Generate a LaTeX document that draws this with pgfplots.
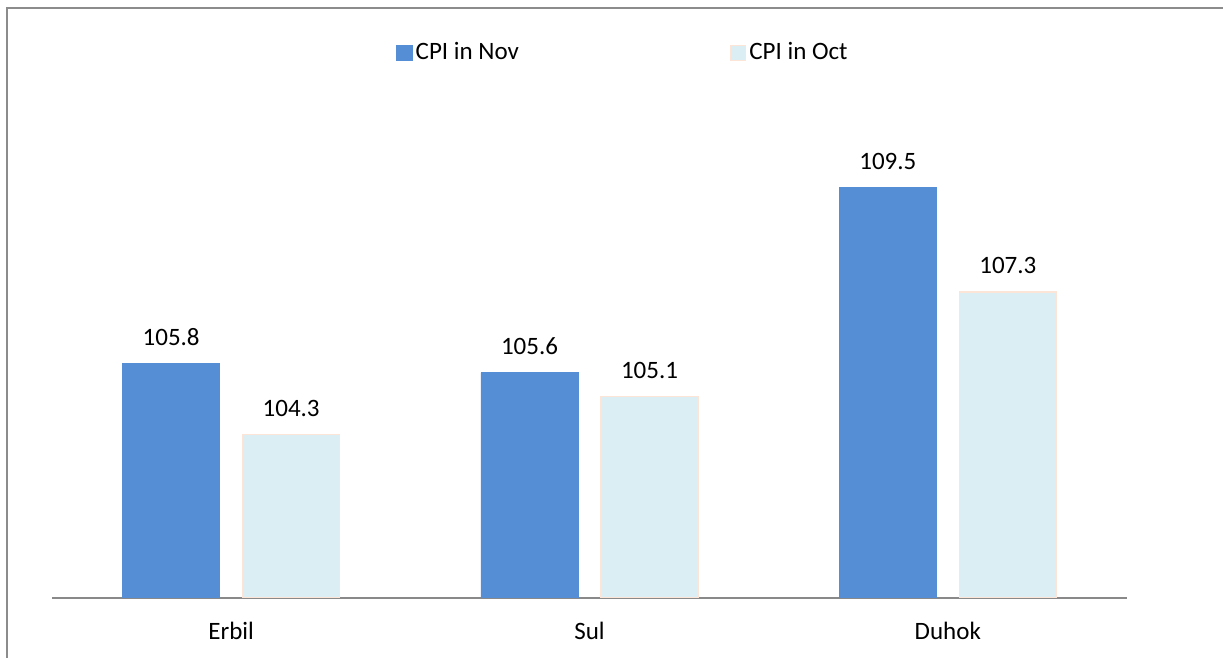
\documentclass[border=0pt]{standalone}
\usepackage{pgfplots}
\pgfplotsset{compat=1.18}
\usepackage{fontspec}
\setmainfont{Carlito}
\definecolor{novblue}{HTML}{558ED5}
\definecolor{octfill}{HTML}{DBEEF4}
\definecolor{octedge}{HTML}{FCE4D6}
\definecolor{framegray}{HTML}{8C8C8C}
\definecolor{axisgray}{HTML}{898989}
\begin{document}
\fontsize{12.5}{14.5}\selectfont
\begin{tikzpicture}
\useasboundingbox (0,0) rectangle (611.5pt,329pt);
\draw[framegray, line width=1.2pt] (3.5pt,-2pt) -- (3.5pt,325pt) -- (614pt,325pt);
\begin{axis}[
  at={(26pt,30pt)}, anchor=south west,
  scale only axis,
  width=537.5pt, height=249pt,
  xmin=-0.5, xmax=2.5,
  ymin=100.87, ymax=111.33,
  ybar, bar width=48.5pt,
  axis x line=bottom, axis y line=none,
  axis line style={draw=axisgray, line width=1pt, -},
  xtick={0,1,2}, xticklabels={Erbil,Sul,Duhok},
  major tick length=0pt,
  xticklabel style={font=\fontsize{12.5}{14.5}\selectfont, yshift=-7.7pt},
  nodes near coords,
  every node near coord/.append style={font=\fontsize{12.5}{14.5}\selectfont, black, yshift=4.5pt},
  /pgf/number format/.cd, fixed, precision=1, fixed zerofill, assume math mode=true,
  /pgfplots/.cd,
  legend columns=2,
  legend style={draw=none, fill=none, at={(0.5316,1.0944)}, anchor=center,
    font=\fontsize{12.5}{14.5}\selectfont,
    /tikz/every even column/.append style={column sep=104pt},
    /tikz/every node/.append style={inner sep=1.5pt}},
  legend image code/.code={\draw[#1, line width=0.6pt] (0pt,-3.8pt) rectangle (7.6pt,3.8pt);},
]
\addplot[fill=novblue, draw=novblue, line width=0.4pt, bar shift=-30pt] coordinates {(0,105.8) (1,105.6) (2,109.5)};
\addlegendentry{CPI in Nov}
\addplot[fill=octfill, draw=octedge, line width=0.8pt, bar shift=30pt] coordinates {(0,104.3) (1,105.1) (2,107.3)};
\addlegendentry{CPI in Oct}
\end{axis}
\end{tikzpicture}
\end{document}
